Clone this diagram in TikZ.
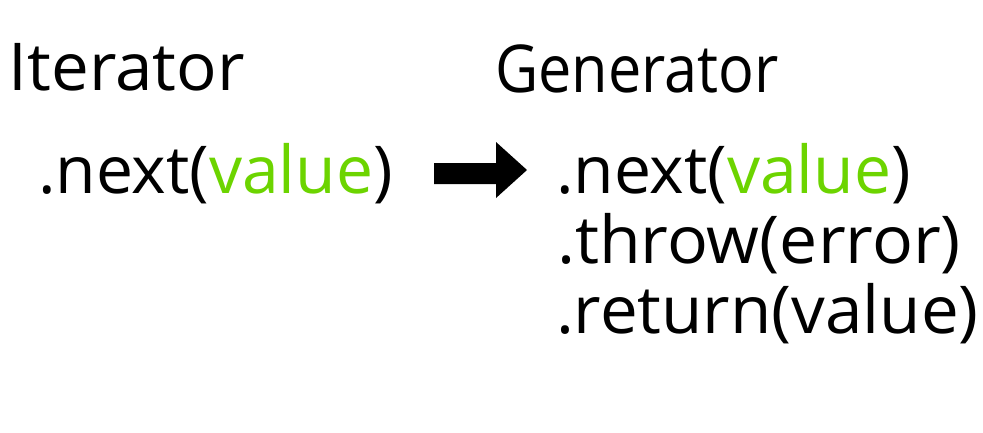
\documentclass[tikz,border=0pt]{standalone}
\usepackage{fontspec}
\setmainfont{Open Sans}
\definecolor{valgreen}{HTML}{6CD400}
\begin{document}
\begin{tikzpicture}[x=1pt,y=-1pt,
  lbl/.style={anchor=base west,inner sep=0pt,outer sep=0pt,font=\fontsize{66}{70}\selectfont}]
\useasboundingbox (0,0) rectangle (983,432);
\node[lbl] (it) at (9,90) {\scalebox{1.02}[1]{Iterator}};
\node[lbl] (itnext) at (38,193) {.next(\textcolor{valgreen}{value})};
\node[lbl] (gen) at (495,92) {\scalebox{0.9}[1]{Generator}};
\node[lbl] (gnext) at (556,193) {.next(\textcolor{valgreen}{value})};
\node[lbl] (gthrow) at (557,263) {\scalebox{1.03}[1]{.throw(error)}};
\node[lbl] (greturn) at (556,333) {\scalebox{1.02}[1]{.return(value)}};
\fill (434,163) -- (496,163) -- (496,142) -- (527,170) -- (496,198) -- (496,184) -- (434,184) -- cycle;
\end{tikzpicture}
\end{document}
